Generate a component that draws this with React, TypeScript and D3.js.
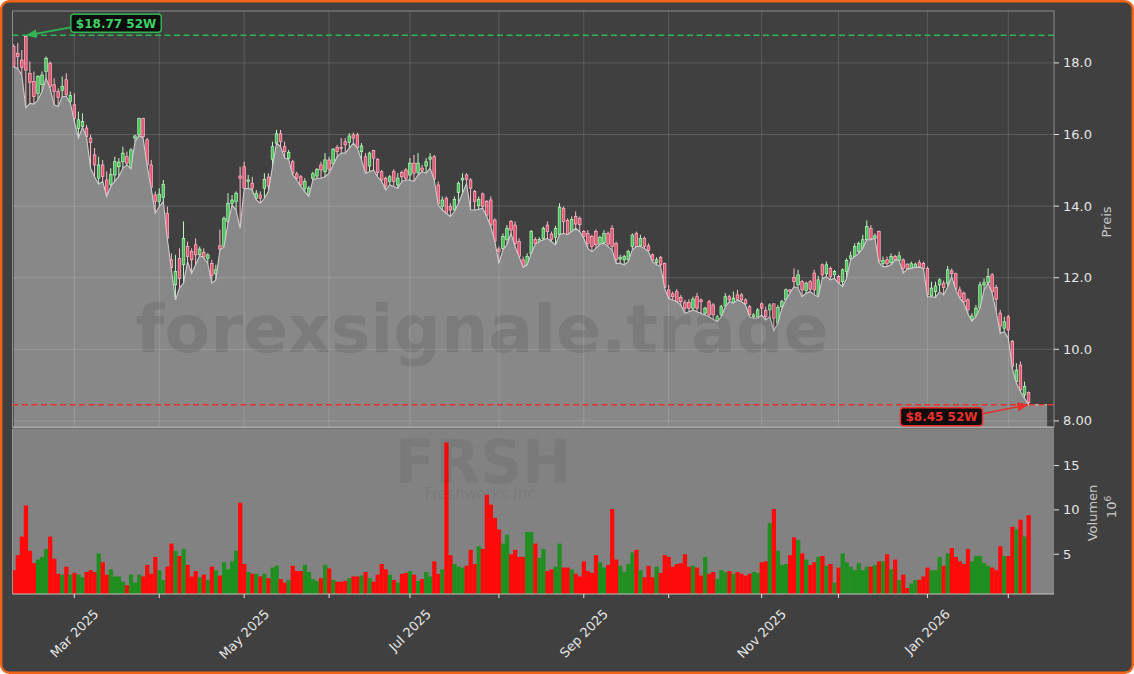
import React from 'react';
import * as d3 from 'd3';

// ---------- DATA (index = trading day, 7 Feb 2025 .. 9 Feb 2026) ----------
const opens = [
18.46,18.27,18.08,18.74,17.71,17.48,17.15,17.39,17.76,17.99,
17.39,17.20,17.23,17.53,16.92,16.83,16.17,16.22,16.18,15.90,
15.43,14.78,15.15,14.73,14.61,14.87,15.10,15.24,15.38,15.06,
15.90,15.99,16.45,15.85,15.15,14.31,14.13,14.24,13.80,12.50,
11.80,12.54,12.36,12.87,12.73,12.92,12.64,12.71,12.54,12.40,
12.11,12.89,12.87,13.57,14.08,14.13,14.84,15.10,14.69,14.64,
14.22,14.31,14.50,14.81,15.31,15.76,16.02,15.66,15.34,15.24,
14.90,14.82,14.50,14.31,14.78,14.84,15.15,14.96,15.29,15.18,
15.64,15.64,15.80,15.78,15.99,15.99,15.52,15.38,15.12,15.55,
15.31,14.96,14.78,14.69,14.96,14.59,14.94,15.01,14.87,15.20,
14.94,15.06,15.12,15.31,15.38,14.59,13.99,14.22,13.99,13.89,
14.38,14.73,14.87,14.73,14.41,14.01,14.34,14.13,14.17,13.61,
12.80,12.82,13.06,13.57,13.47,13.01,12.50,12.36,12.67,13.07,
13.01,13.10,13.47,13.22,13.13,13.20,13.94,13.60,13.29,13.71,
13.66,13.29,13.24,13.15,13.29,12.94,12.98,13.24,13.38,12.96,
12.52,12.50,12.50,12.87,13.24,12.89,13.10,12.89,12.64,12.42,
12.57,12.40,11.66,11.55,11.61,11.45,11.30,11.31,11.15,11.47,
11.38,11.01,11.33,11.24,10.80,10.96,11.21,11.47,11.29,11.52,
11.52,11.38,11.19,10.91,10.91,11.27,11.08,11.10,11.27,10.73,
11.19,11.38,11.66,12.01,11.80,11.89,11.64,11.89,12.13,11.52,
12.36,12.11,12.26,12.08,12.03,11.89,12.17,12.54,12.59,12.73,
12.82,13.06,13.38,13.10,13.29,12.40,12.50,12.42,12.59,12.48,
12.50,12.38,12.26,12.29,12.42,12.40,12.26,11.49,11.61,11.80,
11.85,11.85,12.19,12.11,11.66,11.57,11.38,10.84,10.93,11.15,
11.80,11.86,12.08,11.73,11.01,10.59,10.91,10.22,9.10,9.56,
8.73,8.79];

const highs = [
18.52,18.55,18.36,18.77,18.04,17.76,17.66,17.76,18.18,18.04,
17.57,17.29,17.62,17.71,17.20,17.15,16.64,16.59,16.27,15.99,
15.62,15.38,15.29,14.97,15.06,15.38,15.34,15.66,15.52,15.62,
15.99,16.47,16.47,15.90,15.29,14.41,14.50,14.73,13.99,12.68,
12.64,12.82,13.57,13.01,12.82,13.10,12.87,12.82,12.68,12.50,
12.36,13.34,13.71,14.36,14.31,14.41,15.10,15.24,14.87,14.82,
14.45,14.41,14.92,14.92,15.80,16.13,16.13,15.80,15.57,15.29,
14.96,14.87,14.78,14.56,14.96,15.06,15.24,15.48,15.38,15.62,
15.71,15.90,15.90,16.04,16.05,16.05,15.76,15.48,15.52,15.57,
15.34,15.01,14.82,14.87,15.03,14.92,14.99,15.06,15.34,15.43,
15.48,15.15,15.34,15.48,15.43,14.69,14.27,14.27,14.08,14.27,
14.69,14.92,14.92,14.78,14.45,14.27,14.38,14.17,14.27,13.66,
12.87,13.24,13.47,13.61,13.57,13.10,12.59,12.68,13.33,13.13,
13.13,13.43,13.57,13.29,13.45,14.08,13.99,13.66,13.71,13.85,
13.71,13.33,13.33,13.20,13.35,13.17,13.33,13.29,13.47,13.01,
12.64,12.64,12.78,13.24,13.29,13.20,13.15,12.96,12.68,12.57,
12.61,12.42,11.80,11.61,11.68,11.52,11.38,11.40,11.47,11.57,
11.42,11.19,11.38,11.29,10.96,11.24,11.57,11.52,11.61,11.66,
11.57,11.42,11.24,11.01,11.15,11.31,11.19,11.29,11.29,11.24,
11.38,11.70,11.68,12.26,12.22,11.94,11.89,11.94,12.22,12.05,
12.40,12.45,12.31,12.22,12.08,12.26,12.54,12.73,12.96,13.01,
13.20,13.60,13.47,13.24,13.32,12.59,12.59,12.68,12.64,12.73,
12.54,12.40,12.45,12.42,12.50,12.45,12.31,11.89,11.89,11.98,
11.92,12.33,12.26,12.14,11.75,11.61,11.43,11.01,11.24,11.89,
11.98,12.26,12.13,11.80,11.10,10.91,10.96,10.26,9.61,9.66,
9.10,8.82];

const lows = [
17.88,17.85,17.66,16.75,16.87,16.85,16.97,17.20,17.57,17.29,
16.83,16.78,17.06,17.06,16.88,16.36,15.90,16.20,15.93,15.06,
14.82,14.61,14.69,14.27,14.55,14.70,14.83,15.06,15.15,15.04,
15.80,15.97,15.90,15.13,14.50,13.80,13.99,14.13,13.08,12.22,
11.38,11.71,11.85,12.45,12.12,12.36,12.62,12.56,12.40,11.85,
11.94,12.78,12.85,13.52,14.03,13.89,13.38,14.48,14.50,14.45,
14.17,14.08,14.22,14.41,15.10,15.76,15.66,15.34,15.31,14.87,
14.73,14.55,14.40,14.27,14.73,14.78,14.78,14.82,14.92,15.15,
15.38,15.48,15.48,15.62,15.76,15.62,15.29,14.92,14.96,15.01,
14.82,14.69,14.45,14.59,14.55,14.50,14.69,14.73,14.73,14.69,
14.87,14.96,14.92,15.06,14.73,14.03,13.89,13.80,13.71,13.85,
14.08,14.36,14.64,13.89,13.89,13.91,13.94,13.71,13.43,13.01,
12.40,12.78,12.92,13.24,12.87,12.59,12.29,12.36,12.67,12.94,
13.01,13.06,13.10,13.01,12.92,13.20,13.24,13.20,13.29,13.38,
13.29,13.10,12.82,12.73,12.82,12.94,12.96,12.87,12.78,12.40,
12.40,12.36,12.45,12.78,12.87,12.87,12.82,12.73,12.45,12.36,
12.31,11.71,11.42,11.38,11.33,11.24,11.01,11.05,11.10,11.05,
11.01,10.96,10.91,10.84,10.77,10.91,11.19,11.33,11.29,11.38,
11.33,11.24,10.91,10.87,10.87,10.96,10.82,10.91,10.52,10.73,
11.15,11.38,11.58,11.75,11.71,11.47,11.57,11.61,11.52,11.47,
11.98,12.03,11.94,11.98,11.85,11.75,11.98,12.50,12.59,12.68,
12.82,13.06,13.06,13.10,12.42,12.31,12.31,12.36,12.50,12.48,
12.13,12.24,12.26,12.29,12.29,12.26,11.47,11.47,11.45,11.61,
11.52,11.75,12.03,11.66,11.43,11.29,10.99,10.78,10.91,11.15,
11.66,11.85,11.57,11.05,10.45,10.49,10.31,9.47,9.05,8.82,
8.63,8.45];

const closes = [
17.90,18.18,17.87,17.80,17.46,17.06,17.62,17.66,18.13,17.34,
17.20,17.03,17.34,17.11,17.09,16.45,16.41,16.36,15.94,15.78,
15.15,15.15,14.83,14.36,14.89,15.24,15.23,15.48,15.20,15.57,
15.96,16.45,15.94,15.15,14.52,14.13,14.33,14.61,13.10,12.28,
12.17,11.98,13.10,12.59,12.50,12.64,12.80,12.58,12.64,12.06,
12.22,12.80,13.66,14.08,14.17,14.36,14.78,14.50,14.73,14.50,
14.36,14.22,14.75,14.56,15.66,16.02,15.80,15.52,15.50,14.92,
14.78,14.59,14.69,14.50,14.90,15.03,15.01,15.29,15.03,15.59,
15.52,15.61,15.71,15.96,15.90,15.64,15.68,14.94,15.48,15.34,
14.94,14.73,14.56,14.82,14.69,14.78,14.82,14.78,15.20,14.92,
15.20,15.00,15.24,15.37,14.75,14.06,14.17,13.80,13.89,14.19,
14.64,14.78,14.75,14.50,14.13,14.19,13.99,13.75,13.47,13.01,
12.73,13.15,13.38,13.33,12.96,12.59,12.29,12.59,13.29,12.96,
13.07,13.38,13.29,13.07,13.38,13.97,13.57,13.20,13.63,13.50,
13.48,13.15,12.96,12.87,12.92,13.13,13.24,12.94,12.87,12.50,
12.57,12.59,12.73,13.19,12.87,13.10,12.87,12.76,12.48,12.50,
12.36,11.73,11.45,11.47,11.33,11.33,11.15,11.15,11.40,11.15,
11.33,11.15,10.96,10.96,10.91,11.19,11.47,11.38,11.43,11.40,
11.38,11.27,10.96,10.96,11.10,11.15,10.91,11.24,10.87,11.17,
11.33,11.66,11.61,11.89,12.08,11.66,11.85,11.68,11.66,11.94,
12.08,12.36,12.03,12.17,11.86,12.22,12.48,12.61,12.87,12.96,
13.06,13.43,13.10,13.17,12.45,12.48,12.39,12.59,12.50,12.61,
12.26,12.26,12.39,12.38,12.31,12.26,11.52,11.71,11.77,11.94,
11.73,12.22,12.11,11.68,11.45,11.33,11.10,10.93,11.15,11.80,
11.86,12.03,11.61,11.40,10.65,10.77,10.54,9.52,9.42,8.87,
8.96,8.51];

// volume in millions
const volumes = [
3.2,4.9,7.0,10.5,5.4,4.0,4.4,4.7,5.6,7.0,
4.5,2.8,2.7,3.6,2.7,2.9,2.7,2.4,3.0,3.2,
3.0,5.1,4.1,2.7,3.3,2.5,2.5,1.9,1.5,2.7,
1.8,2.7,2.5,3.8,2.8,4.7,3.2,2.1,3.6,6.2,
5.4,4.8,5.6,3.8,2.5,3.1,2.4,2.7,2.1,3.6,
3.2,2.6,4.1,3.3,4.2,5.4,10.8,3.9,3.0,2.8,
2.8,2.5,2.8,2.3,3.5,3.7,2.2,1.8,2.1,3.7,
3.1,3.1,3.8,3.0,2.2,2.0,2.3,3.8,3.4,2.1,
1.9,1.9,2.0,2.3,2.5,2.5,2.6,3.0,2.3,1.9,
2.7,3.9,3.3,2.7,2.1,1.8,2.8,2.9,3.1,2.7,
2.0,2.2,3.0,2.5,4.2,2.8,3.3,17.6,4.9,3.9,
3.6,3.5,3.7,5.5,3.9,5.9,5.6,11.7,10.6,9.1,
7.8,6.2,7.2,5.0,5.5,4.7,4.7,7.5,7.5,6.2,
4.6,5.6,3.1,3.3,3.6,6.2,3.5,3.5,3.3,2.8,
2.5,4.2,3.1,2.9,4.9,4.1,3.5,3.8,10.1,4.4,
3.7,3.0,3.9,5.2,5.5,3.2,2.4,3.7,2.4,3.6,
2.9,4.9,4.7,3.6,3.9,4.0,5.0,3.6,3.7,3.5,
2.6,4.7,2.8,3.0,2.2,3.2,3.0,3.1,2.8,3.0,
2.8,2.6,2.8,3.0,2.9,4.1,4.2,8.5,10.1,5.4,
3.8,3.9,4.9,6.9,6.6,5.1,4.4,3.8,4.1,4.7,
4.8,3.7,3.9,1.8,3.5,5.1,4.1,3.6,3.2,4.0,
3.2,3.6,3.6,3.8,4.2,4.2,5.0,3.3,4.4,2.1,
2.7,1.2,1.7,2.1,2.1,2.5,3.5,3.2,3.2,4.7,
3.7,5.1,5.7,4.7,4.2,3.9,5.6,4.2,4.8,4.8,
4.0,3.7,3.5,3.2,5.9,4.8,4.8,8.1,7.8,8.9,
7.0,9.4];

// first trading day of each month (index) and its label
const monthTickIdx = [15, 36, 57, 78, 98, 120, 141, 162, 185, 204, 226, 246];
const monthTickLabels = ['Mar 2025', '', 'May 2025', '', 'Jul 2025', '', 'Sep 2025', '', 'Nov 2025', '', 'Jan 2026', ''];
const priceTicks = [8, 10, 12, 14, 16, 18];
const priceTickLabels = ['8.00', '10.0', '12.0', '14.0', '16.0', '18.0'];
const volumeTicks = [5, 10, 15];
const high52 = 18.77;
const low52 = 8.45;
const high52Label = '$18.77 52W';
const low52Label = '$8.45 52W';
const watermark = 'forexsignale.trade';
const ticker = 'FRSH';
const company = 'Freshworks Inc';

const FONT = 'DejaVu Sans, Verdana, sans-serif';

function textWidth(s: string, font: string): number {
  if (typeof document === 'undefined') return s.length * 7.5;
  const c = document.createElement('canvas').getContext('2d');
  if (!c) return s.length * 7.5;
  c.font = font;
  return c.measureText(s).width;
}

export default function App() {
  const W = 1134, H = 674;
  const left = 12.5, right = 1054;
  const pTop = 11, pBot = 427;
  const vTop = 429, vBot = 594;

  const n = closes.length;
  const x = d3.scaleLinear().domain([-0.3, 257.3]).range([left, right]);
  const yP = d3.scaleLinear().domain([7.83, 19.45]).range([pBot, pTop]);
  const yV = d3.scaleLinear().domain([0.52, 19.12]).range([vBot, vTop]);
  const step = x(1) - x(0);
  const bodyW = step * 0.64;

  const candles = d3.range(n).map(i => {
    const o = opens[i], c = closes[i];
    return {
      i, o, c,
      h: Math.max(highs[i], o, c),
      l: Math.min(lows[i], o, c),
      v: volumes[i],
      up: c >= o,
    };
  });

  const areaPts = candles.map(d => ({ i: d.i, l: d.l }));
  areaPts.push({ i: n - 1 + 4.6, l: candles[n - 1].l });
  const area = d3.area<{ i: number; l: number }>().x(d => x(d.i)).y0(pBot).y1(d => yP(d.l))(areaPts) || '';
  const line = d3.line<{ i: number; l: number }>().x(d => x(d.i)).y(d => yP(d.l))(areaPts) || '';

  const upFill = '#45c255', upEdge = '#bff7c2';
  const dnFill = '#e8506f', dnEdge = '#ffbccb';
  const green52 = '#2fb552', red52 = '#e8302c';

  // annotation anchors
  const hiIdx = candles.reduce((a, d) => (d.h > candles[a].h ? d.i : a), 0);
  const loIdx = candles.reduce((a, d) => (d.l < candles[a].l ? d.i : a), 0);
  const hiX = x(hiIdx), hiY = yP(high52);
  const loX = x(loIdx), loY = yP(low52);
  const annFont = `bold 12px ${FONT}`;
  const hiW = textWidth(high52Label, annFont) + 10;
  const loW = textWidth(low52Label, annFont) + 10;
  const hiBox = { x: hiX + 45, y: hiY - 21, w: hiW, h: 18 };
  const loBox = { x: loX - 46 - loW, y: loY + 3, w: loW, h: 18 };

  const labFont = `13px ${FONT}`;

  return (
    <svg width={W} height={H} viewBox={`0 0 ${W} ${H}`} style={{ position: 'absolute', left: 0, top: 0 }} fontFamily={FONT}>
      <defs>
        <clipPath id="pclip"><rect x={left} y={pTop} width={right - left} height={pBot - pTop} /></clipPath>
        <clipPath id="vclip"><rect x={left} y={vTop} width={right - left} height={vBot - vTop} /></clipPath>
        <marker id="arrG" viewBox="0 0 10 10" refX="9" refY="5" markerWidth="7" markerHeight="7" orient="auto-start-reverse">
          <path d="M0,1 L10,5 L0,9 z" fill={green52} />
        </marker>
        <marker id="arrR" viewBox="0 0 10 10" refX="9" refY="5" markerWidth="7" markerHeight="7" orient="auto-start-reverse">
          <path d="M0,1 L10,5 L0,9 z" fill={red52} />
        </marker>
      </defs>
      <rect x={0} y={0} width={W} height={H} fill="#ffffff" />
      <rect x={1.2} y={1.2} width={W - 2.4} height={H - 2.4} rx={8} ry={8} fill="#404040" stroke="#f0641a" strokeWidth={2.4} />

      {/* ---------- price panel ---------- */}
      <g clipPath="url(#pclip)">
        {candles.map(d => {
          const cx = x(d.i);
          const top = yP(Math.max(d.o, d.c));
          const bot = yP(Math.min(d.o, d.c));
          return (
            <g key={d.i}>
              <line x1={cx} x2={cx} y1={yP(d.h)} y2={yP(d.l)} stroke={d.up ? upEdge : dnEdge} strokeWidth={1} />
              <rect x={cx - bodyW / 2} y={top} width={bodyW} height={Math.max(bot - top, 0.8)}
                fill={d.up ? upFill : dnFill} stroke={d.up ? upEdge : dnEdge} strokeWidth={0.7} />
            </g>
          );
        })}
        <path d={area} fill="#888888" />
        <path d={line} fill="none" stroke="#cdcdcd" strokeWidth={1.1} />
        {priceTicks.map(t => (
          <line key={'hg' + t} x1={left} x2={right} y1={yP(t)} y2={yP(t)} stroke="#ffffff" strokeOpacity={0.14} strokeWidth={1} />
        ))}
        {monthTickIdx.map(t => (
          <line key={'vg' + t} x1={x(t)} x2={x(t)} y1={pTop} y2={pBot} stroke="#ffffff" strokeOpacity={0.14} strokeWidth={1} />
        ))}
        <text x={482} y={352} textAnchor="middle" fontWeight="bold" fontSize={66} fill="#000" fillOpacity={0.09}
          textLength={693} lengthAdjust="spacingAndGlyphs">{watermark}</text>
        <line x1={left} x2={right} y1={hiY} y2={hiY} stroke={green52} strokeWidth={1.5} strokeDasharray="6,3.5" />
        <line x1={left} x2={right} y1={loY} y2={loY} stroke={red52} strokeWidth={1.5} strokeDasharray="6,3.5" />
      </g>
      <rect x={left} y={pTop} width={right - left} height={pBot - pTop} fill="none" stroke="#8c8c8c" strokeWidth={1} />
      <line x1={left} x2={right} y1={pBot + 0.5} y2={pBot + 0.5} stroke="#a8a8a8" strokeWidth={2} />

      {/* ---------- volume panel ---------- */}
      <rect x={left} y={vTop} width={right - left} height={vBot - vTop} fill="#828282" />
      <g clipPath="url(#vclip)">
        {candles.map(d => (
          <rect key={'v' + d.i} x={x(d.i) - step / 2} y={yV(d.v)} width={step + 0.2} height={vBot - yV(d.v)}
            fill={d.up ? '#1f8f1f' : '#ff0a0a'} />
        ))}
        <text x={483} y={483} textAnchor="middle" fontWeight="bold" fontSize={60} fill="#000" fillOpacity={0.06}
          textLength={176} lengthAdjust="spacingAndGlyphs">{ticker}</text>
        <text x={480} y={499} textAnchor="middle" fontSize={15} fill="#000" fillOpacity={0.07}>{company}</text>
      </g>
      <line x1={left} x2={right} y1={vBot} y2={vBot} stroke="#c4c4c4" strokeWidth={1.2} />
      <line x1={left} x2={left} y1={vTop} y2={vBot} stroke="#9a9a9a" strokeWidth={1} />

      {/* ---------- axes ---------- */}
      {priceTicks.map((t, k) => (
        <g key={'pt' + t}>
          <line x1={right} x2={right + 5} y1={yP(t)} y2={yP(t)} stroke="#e0e0e0" strokeWidth={1} />
          <text x={right + 9} y={yP(t)} dy="0.35em" fontSize={13} fill="#e6e6e6">{priceTickLabels[k]}</text>
        </g>
      ))}
      <text transform={`translate(1111,222) rotate(-90)`} textAnchor="middle" fontSize={13} fill="#c8c8c8">Preis</text>

      {volumeTicks.map(t => (
        <g key={'vt' + t}>
          <line x1={right} x2={right + 5} y1={yV(t)} y2={yV(t)} stroke="#e0e0e0" strokeWidth={1} />
          <text x={right + 9} y={yV(t)} dy="0.35em" fontSize={13} fill="#e6e6e6">{t}</text>
        </g>
      ))}
      <text transform={`translate(1097,513) rotate(-90)`} textAnchor="middle" fontSize={13} fill="#c8c8c8">Volumen</text>
      <text transform={`translate(1116,507) rotate(-90)`} textAnchor="middle" fontSize={13} fill="#c8c8c8">
        10<tspan fontSize={9} dy={-5}>6</tspan>
      </text>

      {monthTickIdx.map((t, k) => {
        const lab = monthTickLabels[k];
        const tx = x(t);
        const w = lab ? textWidth(lab, labFont) : 0;
        const cy = 607 + (w + 13) * 0.3536;
        return (
          <g key={'mt' + t}>
            <line x1={tx} x2={tx} y1={vBot} y2={vBot + 4} stroke="#e0e0e0" strokeWidth={1} />
            {lab && (
              <text x={tx} y={cy} textAnchor="middle" dominantBaseline="central" fontSize={13} fill="#e6e6e6"
                transform={`rotate(-45,${tx},${cy})`}>{lab}</text>
            )}
          </g>
        );
      })}

      {/* ---------- 52W annotations ---------- */}
      <line x1={hiBox.x} y1={hiBox.y + 13} x2={hiX + 1} y2={hiY} stroke={green52} strokeWidth={1.6} markerEnd="url(#arrG)" />
      <rect x={hiBox.x} y={hiBox.y} width={hiBox.w} height={hiBox.h} rx={3} fill="#0c0c0c" stroke={green52} strokeWidth={1.5} />
      <text x={hiBox.x + hiBox.w / 2} y={hiBox.y + hiBox.h / 2} dy="0.36em" textAnchor="middle" fontWeight="bold" fontSize={12} fill="#3dd267">{high52Label}</text>

      <line x1={loBox.x + loBox.w} y1={loBox.y + 6} x2={loX - 1} y2={loY} stroke={red52} strokeWidth={1.6} markerEnd="url(#arrR)" />
      <rect x={loBox.x} y={loBox.y} width={loBox.w} height={loBox.h} rx={3} fill="#0c0c0c" stroke={red52} strokeWidth={1.5} />
      <text x={loBox.x + loBox.w / 2} y={loBox.y + loBox.h / 2} dy="0.36em" textAnchor="middle" fontWeight="bold" fontSize={12} fill="#e8302c">{low52Label}</text>
    </svg>
  );
}
